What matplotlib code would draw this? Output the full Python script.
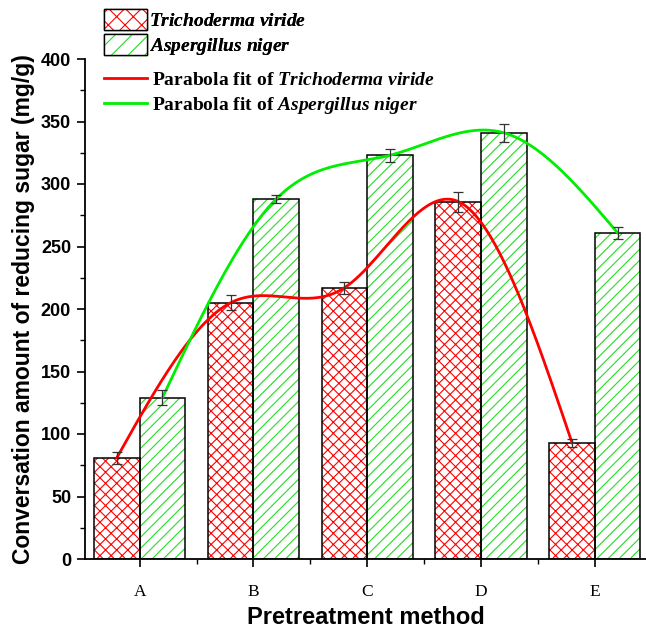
import numpy as np
import matplotlib
matplotlib.use("Agg")
import matplotlib.pyplot as plt
from matplotlib.patches import Patch
from matplotlib.lines import Line2D
from matplotlib.ticker import MultipleLocator, FixedLocator

categories = ["A", "B", "C", "D", "E"]
tv_values = [81, 205, 217, 286, 93]
tv_err = [5, 6, 5, 8, 3]
an_values = [129, 288, 323, 341, 261]
an_err = [6, 3, 5, 7, 5]

plt.rcParams['mathtext.fontset'] = 'custom'
plt.rcParams['mathtext.rm'] = 'Liberation Serif:bold'
plt.rcParams['mathtext.it'] = 'Liberation Serif:bold:italic'
plt.rcParams['mathtext.bf'] = 'Liberation Serif:bold'
plt.rcParams['hatch.linewidth'] = 0.8


def natural_spline(x, y, xs):
    x = np.asarray(x, float); y = np.asarray(y, float)
    n = len(x)
    h = np.diff(x)
    A = np.zeros((n, n)); b = np.zeros(n)
    A[0, 0] = 1; A[-1, -1] = 1
    for i in range(1, n - 1):
        A[i, i - 1] = h[i - 1]
        A[i, i] = 2 * (h[i - 1] + h[i])
        A[i, i + 1] = h[i]
        b[i] = 6 * ((y[i + 1] - y[i]) / h[i] - (y[i] - y[i - 1]) / h[i - 1])
    M = np.linalg.solve(A, b)
    out = np.empty_like(xs)
    for k, t in enumerate(xs):
        i = min(max(np.searchsorted(x, t) - 1, 0), n - 2)
        a = x[i + 1] - t; c = t - x[i]
        out[k] = (M[i] * a ** 3 + M[i + 1] * c ** 3) / (6 * h[i]) \
            + (y[i] / h[i] - M[i] * h[i] / 6) * a \
            + (y[i + 1] / h[i] - M[i + 1] * h[i] / 6) * c
    return out


fig = plt.figure(figsize=(6.46, 6.31), dpi=100)
ax = fig.add_axes([85 / 646, 1 - 559 / 631, (646 - 85) / 646, 500 / 631])

x = np.arange(len(categories))
w = 0.4
xr = x - w / 2
xg = x + w / 2

RED = '#ff0000'
GREEN = '#22dd22'

ax.bar(xr, tv_values, w, color='white', edgecolor=RED, hatch='xxx', linewidth=0, zorder=2)
ax.bar(xr, tv_values, w, fill=False, edgecolor='black', linewidth=1.1, zorder=3)
ax.bar(xg, an_values, w, color='white', edgecolor=GREEN, hatch='///', linewidth=0, zorder=2)
ax.bar(xg, an_values, w, fill=False, edgecolor='black', linewidth=1.1, zorder=3)

ax.errorbar(xr, tv_values, yerr=tv_err, fmt='none', ecolor='#333333', elinewidth=0.9,
            capsize=3.5, capthick=0.9, zorder=5)
ax.errorbar(xg, an_values, yerr=an_err, fmt='none', ecolor='#333333', elinewidth=0.9,
            capsize=3.5, capthick=0.9, zorder=5)

xs_r = np.linspace(xr[0], xr[-1], 400)
xs_g = np.linspace(xg[0], xg[-1], 400)
ax.plot(xs_r, natural_spline(xr, tv_values, xs_r), color='#ff0000', lw=2.0, zorder=4)
ax.plot(xs_g, natural_spline(xg, an_values, xs_g), color='#00ee00', lw=2.0, zorder=4)

ax.set_xlim(-0.48, 4.45)
ax.set_ylim(0, 400)
ax.spines['top'].set_visible(False)
ax.spines['right'].set_visible(False)
for s in ('left', 'bottom'):
    ax.spines[s].set_linewidth(1.3)

ax.set_xticks(x)
ax.set_xticklabels(categories, family='Liberation Serif', fontsize=12.5)
ax.xaxis.set_minor_locator(FixedLocator(x[:-1] + 0.5))
ax.yaxis.set_major_locator(MultipleLocator(50))
ax.yaxis.set_minor_locator(MultipleLocator(25))
ax.tick_params(which='major', direction='out', length=6, width=1.2, pad=12, axis='x')
ax.tick_params(which='major', direction='out', length=6, width=1.2, pad=4, axis='y')
ax.tick_params(which='minor', direction='out', length=3.5, width=1.0)
for lab in ax.get_yticklabels():
    lab.set_family(['Liberation Sans Narrow', 'Liberation Sans'])
    lab.set_fontsize(13)
    lab.set_fontweight('bold')

ax.set_ylabel('Conversation amount of reducing sugar (mg/g)', family='Liberation Sans',
              fontweight='bold', fontsize=16.5, labelpad=4)
ax.set_xlabel('Pretreatment method', family='Liberation Sans', fontweight='bold',
              fontsize=17, labelpad=4)

h1 = (Patch(facecolor='white', edgecolor=RED, hatch='xx', linewidth=0),
      Patch(fill=False, edgecolor='black', linewidth=1.0))
h2 = (Patch(facecolor='white', edgecolor=GREEN, hatch='//', linewidth=0),
      Patch(fill=False, edgecolor='black', linewidth=1.0))
leg1 = fig.legend([h1, h2], [r'$\mathit{Trichoderma\ viride}$', r'$\mathit{Aspergillus\ niger}$'],
                  loc='upper left', bbox_to_anchor=(100 / 646, 1 - 5 / 631), frameon=False,
                  fontsize=14, handlelength=2.2, handleheight=1.3, handletextpad=0.1,
                  labelspacing=0.2, borderaxespad=0, borderpad=0.2)
l1 = Line2D([], [], color='#ff0000', lw=2.0)
l2 = Line2D([], [], color='#00ee00', lw=2.0)
leg2 = fig.legend([l1, l2], [r'$\mathrm{Parabola\ fit\ of\ }\mathit{Trichoderma\ viride}$',
                             r'$\mathrm{Parabola\ fit\ of\ }\mathit{Aspergillus\ niger}$'],
                  loc='upper left', bbox_to_anchor=(100 / 646, 1 - 66 / 631), frameon=False,
                  fontsize=14, handlelength=2.2, handletextpad=0.3,
                  labelspacing=0.3, borderaxespad=0, borderpad=0.2)
fig.add_artist(leg1)

fig.savefig('out.png', dpi=100)
